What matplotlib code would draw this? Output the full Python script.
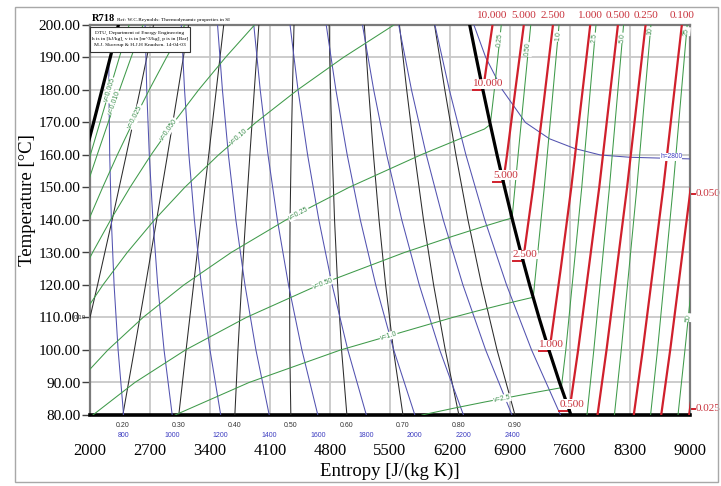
import numpy as np
import matplotlib
matplotlib.use("Agg")
import matplotlib.pyplot as plt
from matplotlib.patches import Rectangle
import matplotlib.transforms as mtransforms

# ------------------------------------------------------------------ data
S_TICKS = [2000, 2700, 3400, 4100, 4800, 5500, 6200, 6900, 7600, 8300, 9000]
T_TICKS = [80, 90, 100, 110, 120, 130, 140, 150, 160, 170, 180, 190, 200]

# saturation curve (T in degC, s in J/kg K)
SAT_LIQ_T = [155, 160, 170, 180, 190, 200]
SAT_LIQ_S = [1892, 1943, 2042, 2139, 2236, 2331]
SAT_VAP_T = [80, 90, 100, 110, 120, 130, 140, 150, 160, 170, 180, 190, 200]
SAT_VAP_S = [7611, 7478, 7354, 7238, 7129, 7026, 6929, 6837, 6749, 6665, 6584, 6506, 6430]

# quality lines (black)
QUALITY_LABELS = ["0.10", "0.20", "0.30", "0.40", "0.50", "0.60", "0.70", "0.80", "0.90"]
QUALITY_T = [80, 100, 120, 140, 160, 180, 200]
QUALITY_S = [
    [1729, 1912, 2088, 2258, 2423, 2584, 2741],
    [2383, 2517, 2648, 2777, 2904, 3028, 3150],
    [3036, 3121, 3208, 3296, 3385, 3473, 3560],
    [3690, 3726, 3768, 3815, 3865, 3917, 3970],
    [4343, 4331, 4329, 4334, 4346, 4362, 4380],
    [4997, 4935, 4889, 4853, 4827, 4806, 4790],
    [5651, 5540, 5449, 5372, 5307, 5251, 5200],
    [6304, 6145, 6009, 5891, 5788, 5695, 5610],
    [6958, 6749, 6569, 6410, 6269, 6140, 6020],
]

# enthalpy lines (blue), kJ/kg
ENTHALPY_LABELS = ["800", "1000", "1200", "1400", "1600", "1800", "2000", "2200", "2400", ""]
ENTHALPY_T = [
    [80, 100, 120, 140, 160, 180, 188.4],
    [80, 100, 120, 140, 160, 180, 200],
    [80, 100, 120, 140, 160, 180, 200],
    [80, 100, 120, 140, 160, 180, 200],
    [80, 100, 120, 140, 160, 180, 200],
    [80, 100, 120, 140, 160, 180, 200],
    [80, 100, 120, 140, 160, 180, 200],
    [80, 100, 120, 140, 160, 180, 200],
    [80, 100, 120, 140, 160, 180, 200],
    [80, 100, 120, 140, 160, 180, 200],
]
ENTHALPY_S = [
    [2392, 2328, 2281, 2249, 2230, 2221, 2220],
    [2959, 2864, 2790, 2734, 2692, 2662, 2643],
    [3525, 3400, 3299, 3218, 3154, 3103, 3065],
    [4091, 3936, 3808, 3702, 3615, 3545, 3488],
    [4658, 4472, 4316, 4186, 4077, 3986, 3911],
    [5224, 5008, 4825, 4670, 4539, 4427, 4334],
    [5790, 5544, 5334, 5154, 5001, 4869, 4756],
    [6357, 6080, 5842, 5638, 5462, 5310, 5179],
    [6923, 6616, 6351, 6122, 5924, 5751, 5602],
    [7489, 7152, 6860, 6606, 6386, 6193, 6024],
]
H2800_T = [158.8, 159.3, 160, 162, 165, 170, 180, 190, 200]
H2800_S = [9000, 8300, 7955, 7654, 7360, 7080, 6812, 6617, 6479]

# isochores (green), m3/kg
V_LABELS = ["v=0.005", "v=0.010", "v=0.025", "v=0.050", "v=0.10",
            "v=0.25", "v=0.50", "v=1.0", "v=2.5", "5.0", "10", "25", "50"]
V_T = [
    [155, 160, 170, 180, 190, 200],
    [150, 160, 170, 180, 190, 200],
    [140, 150, 160, 170, 180, 190, 200],
    [120, 130, 140, 150, 160, 170, 180, 190, 200],
    [110, 120, 130, 140, 150, 160, 170, 180, 190, 200],
    [90, 100, 110, 120, 130, 140, 150, 160, 165, 168, 169.4, 180, 200],
    [80, 90, 100, 110, 120, 130, 135, 138, 140, 140.6, 150, 170, 200],
    [80, 90, 100, 110, 112, 114, 115, 116, 116.2, 150, 200],
    [80, 82, 84, 85, 86, 87, 88, 88.4, 100, 150, 200],
    [80, 100, 150, 200],
    [80, 100, 150, 200],
    [80, 100, 150, 200],
    [80, 100, 120],
]
V_S = [
    [1948, 2004, 2116, 2229, 2342, 2456],
    [1956, 2083, 2212, 2344, 2479, 2618],
    [1984, 2147, 2318, 2499, 2690, 2892, 3106],
    [1836, 2030, 2240, 2466, 2711, 2978, 3266, 3580, 3919],
    [1895, 2150, 2434, 2751, 3104, 3498, 3935, 4420, 4955, 5545],
    [1856, 2208, 2618, 3094, 3647, 4285, 5019, 5856, 6317, 6602, 6670, 6717, 6798],
    [2034, 2523, 3113, 3822, 4667, 5668, 6233, 6591, 6842, 6924, 6958, 7031, 7142],
    [2993, 3855, 4922, 6229, 6516, 6816, 6973, 7133, 7171, 7300, 7472],
    [5873, 6228, 6605, 6805, 7002, 7205, 7415, 7499, 7551, 7737, 7903],
    [7798, 7878, 8060, 8225],
    [8118, 8198, 8380, 8544],
    [8540, 8621, 8803, 8967],
    [8860, 8941, 9019],
]

# isobars (red), bar
P_LABELS = ["10.000", "5.000", "2.500", "1.000", "0.500", "0.250", "0.100", "0.050", "0.025"]
P_T = [
    [179.9, 190, 200],
    [151.8, 160, 180, 200],
    [127.4, 150, 175, 200],
    [99.6, 125, 150, 200],
    [81.3, 100, 150, 200],
    [80, 100, 150, 200],
    [80, 100, 150, 200],
    [80, 100, 150],
    [80, 100],
]
P_S = [
    [6585, 6640, 6696],
    [6821, 6865, 6962, 7061],
    [7052, 7170, 7288, 7401],
    [7359, 7492, 7615, 7836],
    [7593, 7695, 7941, 8159],
    [7921, 8026, 8266, 8482],
    [8344, 8449, 8689, 8905],
    [8664, 8769, 9009],
    [8990, 9095],
]

# ------------------------------------------------------------------ style
RED = "#d0202c"
RED_TXT = "#c8323c"
GREEN = "#3f9a4a"
GREEN_TXT = "#3f9050"
BLUE = "#5252b0"
BLUE_TXT = "#3c3cc0"
QBLACK = "#2b2b2b"
SERIF = ["Liberation Serif", "DejaVu Serif"]
SANS = ["Liberation Sans", "DejaVu Sans"]

W, H = 721, 486
fig = plt.figure(figsize=(W / 100, H / 100), dpi=100)
fig.patch.set_facecolor("white")
ax = fig.add_axes([90 / W, 1 - 415 / H, 600 / W, 390 / H])
ax.set_xlim(2000, 9000)
ax.set_ylim(80, 200)
ax.set_xticks(S_TICKS)
ax.set_yticks(T_TICKS)
ax.set_xticklabels([str(v) for v in S_TICKS], family=SERIF, fontsize=12)
ax.set_yticklabels(["%.2f" % v for v in T_TICKS], family=SERIF, fontsize=11)
ax.tick_params(axis="x", length=0, pad=20)
ax.tick_params(axis="y", length=6, width=1.0, pad=1, color="#404040")
ax.grid(True, color="#c8c8c8", lw=1.3)
ax.set_axisbelow(True)
for side in ["left", "top", "right"]:
    ax.spines[side].set_color("#7a7a7a")
    ax.spines[side].set_linewidth(1.6)
ax.spines["bottom"].set_color("black")
ax.spines["bottom"].set_linewidth(2.6)

ax.set_xlabel("Entropy [J/(kg K)]", family=SERIF, fontsize=13.5)
ax.set_ylabel("Temperature [\u00b0C]", family=SERIF, fontsize=13.5)
ax.xaxis.set_label_coords(0.5, -0.123)
ax.yaxis.set_label_coords(-0.09, 0.55)

px = 7000 / 600.0  # data units of s per pixel
bott = mtransforms.blended_transform_factory(ax.transData, ax.transAxes)

# quality lines
for lab, s in zip(QUALITY_LABELS, QUALITY_S):
    ax.plot(s, QUALITY_T, color=QBLACK, lw=0.75, zorder=3)
    if s[0] >= 2000:
        ax.text(s[0], -10 / 390, lab, transform=bott, ha="center", va="center",
                fontsize=5, family=SANS, color="#333333", clip_on=False)
# 0.10 label at left edge
ax.annotate(QUALITY_LABELS[0], xy=(2000, np.interp(2000, QUALITY_S[0], QUALITY_T)),
            xytext=(-4, 0), textcoords="offset pixels", ha="right", va="center",
            fontsize=4.5, family=SANS, color="#333333", annotation_clip=False)

# enthalpy lines
for lab, t, s in zip(ENTHALPY_LABELS, ENTHALPY_T, ENTHALPY_S):
    ax.plot(s, t, color=BLUE, lw=0.75, zorder=3)
    if lab:
        ax.text(s[0], -20 / 390, lab, transform=bott, ha="center", va="center",
                fontsize=5, family=SANS, color=BLUE_TXT, clip_on=False)
ax.plot(H2800_S, H2800_T, color=BLUE, lw=0.75, zorder=3)
ax.text(8780, 159.4, "h=2800", ha="center", va="center", fontsize=4.8, family=SANS,
        color=BLUE_TXT, zorder=9, bbox=dict(fc="white", ec="none", pad=0.2))

# isochores
for t, s in zip(V_T, V_S):
    ax.plot(s, t, color=GREEN, lw=0.75, zorder=3)

# isobars
for t, s in zip(P_T, P_S):
    ax.plot(s, t, color=RED, lw=1.6, zorder=4, solid_capstyle="butt")

# saturation curve
ax.plot(SAT_LIQ_S, SAT_LIQ_T, color="black", lw=2.3, zorder=5)
ax.plot(SAT_VAP_S, SAT_VAP_T, color="black", lw=2.3, zorder=5)

fig.canvas.draw()


def line_label(t, s, T_at, text, fs=5, color=GREEN_TXT, family=SANS):
    t = np.asarray(t, float)
    s = np.asarray(s, float)
    s_at = np.interp(T_at, t, s)
    d = 0.4
    p1 = ax.transData.transform((np.interp(T_at - d, t, s), T_at - d))
    p2 = ax.transData.transform((np.interp(T_at + d, t, s), T_at + d))
    ang = np.degrees(np.arctan2(p2[1] - p1[1], p2[0] - p1[0]))
    if ang > 90:
        ang -= 180
    if ang < -90:
        ang += 180
    ax.text(s_at, T_at, text, rotation=ang, rotation_mode="anchor", ha="center",
            va="center", fontsize=fs, family=family, color=color, zorder=9,
            bbox=dict(fc="white", ec="none", pad=0.35))


# two-phase isochore labels
V_LABEL_T = [180, 176, 171.7, 167.7, 165.5, 142, 120.5, 104.3, 85]
for i, T_at in enumerate(V_LABEL_T):
    line_label(V_T[i], V_S[i], T_at, V_LABELS[i])
# top labels of superheated isochores
TOP_V = [(5, "0.25", 195.5), (6, "0.50", 192.5), (7, "1.0", 196.5), (8, "2.5", 196),
         (9, "5.0", 196), (10, "10", 198), (11, "25", 198)]
for i, lab, T_at in TOP_V:
    line_label(V_T[i], V_S[i], T_at, lab)
line_label(V_T[12], V_S[12], 110, "50")

# isobar labels
for i, lab in enumerate(P_LABELS):
    t, s = P_T[i], P_S[i]
    if t[-1] >= 200:
        ax.annotate(lab, xy=(s[-1], 200), xytext=(0, 9), textcoords="offset pixels",
                    ha="center", va="center", fontsize=8, family=SERIF, color=RED_TXT,
                    annotation_clip=False)
    if i <= 4:
        ax.plot([s[0] - 10 * px, s[0]], [t[0], t[0]], color=RED, lw=1.4, zorder=4)
        ax.annotate(lab, xy=(s[0], t[0]), xytext=(-10, 2), textcoords="offset pixels",
                    ha="left", va="bottom", fontsize=8, family=SERIF, color=RED_TXT,
                    zorder=9, bbox=dict(fc="white", ec="none", pad=0.3))
    if s[-1] > 9000:
        T_exit = float(np.interp(9000, s, t))
        ax.plot([1.0, 1.0 + 5 / 600], [T_exit, T_exit], color=RED, lw=1.4,
                transform=mtransforms.blended_transform_factory(ax.transAxes, ax.transData),
                clip_on=False)
        ax.annotate(lab, xy=(9000, T_exit), xytext=(6, 0), textcoords="offset pixels",
                    ha="left", va="center", fontsize=8, family=SERIF, color=RED_TXT,
                    annotation_clip=False)

# title and info box
ax.text(2 / 600, 1 + 2 / 390, "R718", transform=ax.transAxes, fontsize=7.5,
        fontweight="bold", family=SERIF, va="bottom", ha="left")
ax.text(27 / 600, 1 + 3 / 390, "Ref: W.C.Reynolds: Thermodynamic properties in SI",
        transform=ax.transAxes, fontsize=3.8, family=SERIF, va="bottom", ha="left")
ax.add_patch(Rectangle((0, (415 - 52) / 390), 100 / 600, 25 / 390, transform=ax.transAxes,
                       fc="white", ec="#333333", lw=0.8, zorder=11))
for k, line in enumerate(["DTU, Department of Energy Engineering",
                          "h is in [kJ/kg], v is in [m^3/kg], p is in [Bar]",
                          "M.J. Skovrup & H.J.H Knudsen. 14-04-03"]):
    ax.text(50 / 600, (415 - 33 - 6 * k) / 390, line, transform=ax.transAxes,
            fontsize=3.9, family=SERIF, ha="center", va="center", zorder=12)

# outer frame
fig.patches.append(Rectangle((15 / W, 1 - 482 / H), 703 / W, 475 / H,
                             transform=fig.transFigure, fill=False, ec="#a8a8a8", lw=1.0))

fig.savefig("out.png", dpi=100)
